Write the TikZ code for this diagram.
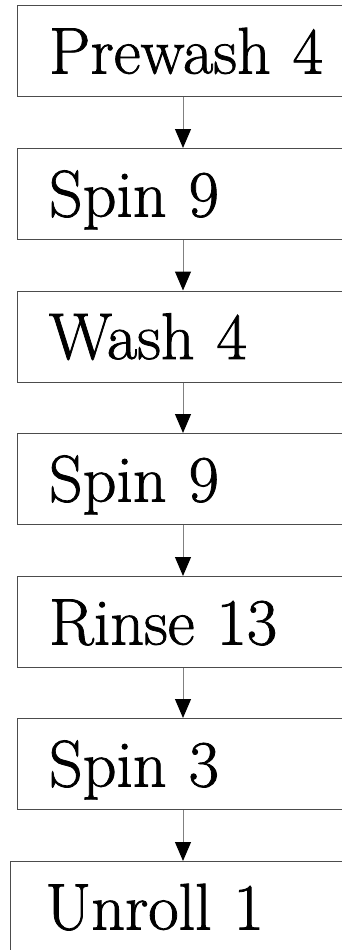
\documentclass[tikz,border=0pt]{standalone}
\usepackage{fontspec}
\newfontfamily\stagefont{Latin Modern Roman}[FakeBold=1.2]
\usetikzlibrary{arrows.meta}
\begin{document}
\begin{tikzpicture}[x=1pt,y=-1pt,
  stage/.style={draw=black!70, line width=1pt, anchor=north west,
    text width=300pt, align=left, inner xsep=32pt, inner ysep=0pt,
    text height=68pt, text depth=23pt,
    font=\stagefont\fontsize{66}{70}\selectfont},
  flow/.style={draw=black!50, line width=1pt,
    -{Triangle[length=19pt,width=16pt,color=black]}}]
\useasboundingbox (0,0) rectangle (342,950);
\clip (0,0) rectangle (342,950);
\coordinate (axis) at (183,0);
\node[stage] (s1) at (16.5,5)   {Prewash 4};
\node[stage] (s2) at (16.5,148) {Spin 9};
\node[stage] (s3) at (16.5,290.5) {Wash 4};
\node[stage] (s4) at (16.5,433) {Spin 9};
\node[stage] (s5) at (16.5,576) {Rinse 13};
\node[stage] (s6) at (16.5,718) {Spin 3};
\node[stage, inner xsep=35pt] (s7) at (10,861) {Unroll 1};
\foreach \a/\b in {s1/s2,s2/s3,s3/s4,s4/s5,s5/s6,s6/s7}
  \draw[flow] (\a.south -| axis) -- (\b.north -| axis);
\end{tikzpicture}
\end{document}
